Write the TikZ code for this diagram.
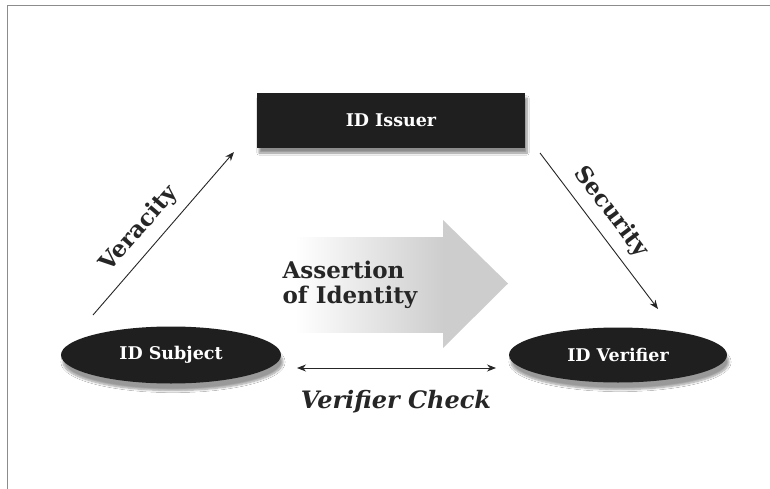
\documentclass[tikz,border=0pt]{standalone}
\usepackage{fontspec}
\setmainfont{DejaVu Serif}
\usetikzlibrary{shapes.geometric,arrows.meta,shadows.blur}
\definecolor{boxfill}{HTML}{1F1F1F}
\definecolor{framecol}{HTML}{8C8C8C}
\definecolor{headgray}{HTML}{CDCDCD}
\definecolor{inkcol}{HTML}{262626}
\begin{document}
\begin{tikzpicture}[x=1pt,y=-1pt,
  darkbox/.style={rectangle, fill=boxfill, text=white, inner sep=0pt,
    font=\bfseries\fontsize{17.5}{19}\selectfont,
    blur shadow={shadow xshift=2pt, shadow yshift=-5pt, shadow opacity=45, shadow blur steps=8}},
  darkoval/.style={ellipse, fill=boxfill, text=white, inner sep=0pt,
    font=\bfseries\fontsize{17.5}{19}\selectfont,
    blur shadow={shadow xshift=2pt, shadow yshift=-7pt, shadow opacity=40, shadow blur steps=8}},
  flowarrow/.style={draw=inkcol, line width=0.9pt, -{Stealth[length=9pt,width=7pt]}},
  biglabel/.style={text=inkcol, font=\bfseries\fontsize{23}{25}\selectfont},
]
\useasboundingbox (0,0) rectangle (770,489);
\fill[white] (0,0) rectangle (770,489);
\draw[framecol, line width=1.6pt] (7.5,489) -- (7.5,5.5) -- (770,5.5);

% big grey arrow
\shade[left color=white, right color=headgray] (295,237) rectangle (443.5,332);
\fill[headgray] (443,220) -- (508,283.5) -- (443,348) -- cycle;

% nodes
\node[darkbox, minimum width=268pt, minimum height=55pt] (issuer) at (391,120.5) {ID Issuer};
\node[darkoval, minimum width=220pt, minimum height=57pt] (subject) at (171,355) {ID Subject};
\node[darkoval, minimum width=218pt, minimum height=55pt] (verifier) at (618,355) {ID Verifier};

% arrows
\coordinate (vtail) at (93,315);
\coordinate (vtip) at (234,152);
\coordinate (stail) at (540,153);
\coordinate (stip) at (658,309);
\coordinate (cleft) at (297,368);
\coordinate (cright) at (496,368);
\draw[flowarrow] (vtail) -- (vtip);
\draw[flowarrow] (stail) -- (stip);
\draw[draw=inkcol, line width=0.9pt, {Stealth[length=9pt,width=7pt]}-{Stealth[length=9pt,width=7pt]}] (cleft) -- (cright);

% labels
\node[biglabel, rotate=49] (veracity) at (139,229) {Veracity};
\node[biglabel, rotate=-53] (security) at (611,212) {Security};
\node[biglabel, anchor=west, align=left] (assertion) at (279,285) {Assertion\\of Identity};
\node[text=inkcol, font=\bfseries\itshape\fontsize{24}{26}\selectfont] (check) at (396,402) {Verifier Check};
\end{tikzpicture}
\end{document}
